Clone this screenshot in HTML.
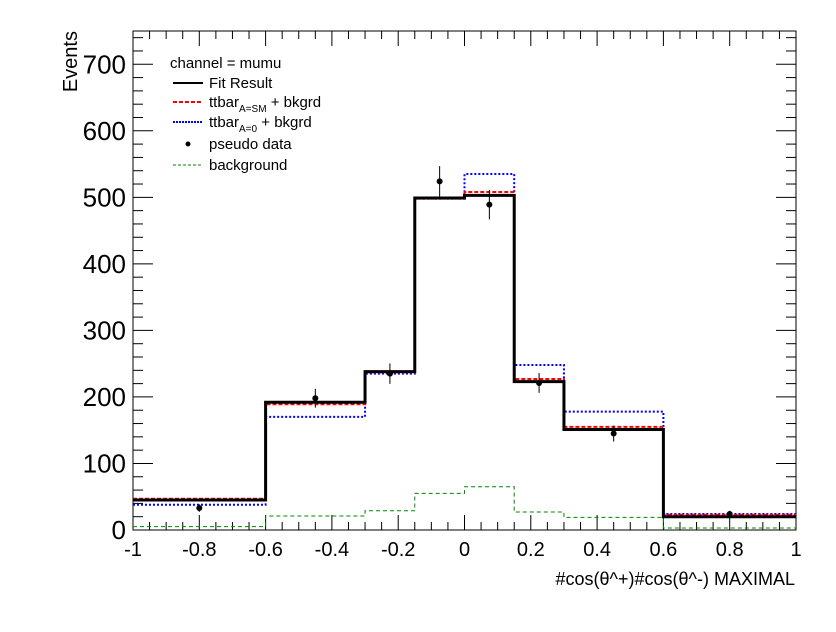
<!DOCTYPE html>
<html><head><meta charset="utf-8"><style>
body{margin:0;background:#fff}
svg{display:block;font-family:"Liberation Sans",sans-serif}
</style></head><body>
<svg id="c" width="836" height="632">
<g id="ax"></g>
<g id="marks"></g>
<g id="leg"></g>
</svg>
<script>
const binEdges=[-1,-0.6,-0.3,-0.15,0,0.15,0.3,0.6,1];
const fitValues=[45,192,238,499,503,223,151,20];
const smValues=[47,189,237,498,508,227,155,23];
const a0Values=[38,170,235,498,535,248,178,24];
const bkgValues=[5,21,29,55,65,27,19,3];
const dataX=[-0.8,-0.45,-0.225,-0.075,0.075,0.225,0.45,0.8];
const dataY=[33,198,235,524,489,221,145,24];
const xTicks=[-1,-0.8,-0.6,-0.4,-0.2,0,0.2,0.4,0.6,0.8,1];
const yTicks=[0,100,200,300,400,500,600,700];

const L=133,R=796,T=31,B=530,YMAX=750;
const sx=v=>L+(v+1)/2*(R-L);
const sy=v=>B-v/YMAX*(B-T);
const NS='http://www.w3.org/2000/svg';
function mk(tag,attrs,parent){const e=document.createElementNS(NS,tag);for(const k in attrs)e.setAttribute(k,attrs[k]);parent.appendChild(e);return e;}
const ax=document.getElementById('ax'),mg=document.getElementById('marks'),lg=document.getElementById('leg');

let fr=mk('rect',{x:L,y:T,width:R-L,height:B-T,fill:'none',stroke:'#000','stroke-width':1},ax);

for(let v=-1;v<=1.0001;v+=0.05){const major=Math.abs(v*5-Math.round(v*5))<1e-6;const len=major?15:8;const x=sx(v);
mk('line',{x1:x,x2:x,y1:B,y2:B-len,stroke:'#000'},ax);mk('line',{x1:x,x2:x,y1:T,y2:T+len,stroke:'#000'},ax);}
xTicks.forEach(v=>{const t=mk('text',{x:sx(v),y:556,'font-size':20,'text-anchor':'middle'},ax);t.textContent=String(v);
});
for(let v=0;v<=YMAX;v+=20){const major=v%100===0;const len=major?20:10;const y=sy(v);
mk('line',{x1:L,x2:L+len,y1:y,y2:y,stroke:'#000'},ax);mk('line',{x1:R,x2:R-len,y1:y,y2:y,stroke:'#000'},ax);}
yTicks.forEach(v=>{const t=mk('text',{x:126,y:sy(v)+9,'font-size':26,'text-anchor':'end'},ax);t.textContent=String(v);
});
let yt=mk('text',{x:0,y:0,'font-size':20,'text-anchor':'end',transform:'translate(77,31) rotate(-90)'},ax);yt.textContent='Events';

let xt=mk('text',{x:795,y:585,'font-size':18,'text-anchor':'end'},ax);xt.textContent='#cos(θ^+)#cos(θ^-) MAXIMAL';


function hist(vals,stroke,w,dash,name){let d='';for(let i=0;i<vals.length;i++){const x0=sx(binEdges[i]),x1=sx(binEdges[i+1]),y=sy(vals[i]);
d+=(i===0?'M'+x0+','+y:'L'+x0+','+y)+'L'+x1+','+y;}
const p=mk('path',{d:d,fill:'none',stroke:stroke,'stroke-width':w},mg);if(dash)p.setAttribute('stroke-dasharray',dash);
}
hist(bkgValues,'#008800',1,'4,3','background-hist');
hist(a0Values,'#0000ff',2,'2,2','ttbar-a0-hist');
hist(smValues,'#ff0000',2,'4,2','ttbar-sm-hist');
hist(fitValues,'#000',3,null,'fit-result-hist');
dataX.forEach((xv,i)=>{const x=sx(xv),v=dataY[i],e=Math.sqrt(v);
mk('line',{x1:x,x2:x,y1:sy(v+e),y2:sy(Math.max(0,v-e)),stroke:'#000'},mg);
const c=mk('circle',{cx:x,cy:sy(v),r:3,fill:'#000'},mg);});

function lt(x,y,s,fs){const t=mk('text',{x:x,y:y,'font-size':fs||15},lg);t.textContent=s;return t;}
lt(170,68,'channel = mumu');
mk('line',{x1:173,x2:203,y1:83,y2:83,stroke:'#000','stroke-width':2},lg);lt(209,88,'Fit Result');
mk('line',{x1:173,x2:203,y1:102,y2:102,stroke:'#f00','stroke-width':2,'stroke-dasharray':'4,2'},lg);
let t1=lt(209,107,'ttbar');let s1=mk('tspan',{'font-size':10,dy:5},t1);s1.textContent='A=SM';let s2=mk('tspan',{dy:-5},t1);s2.textContent=' + bkgrd';
mk('line',{x1:173,x2:203,y1:122,y2:122,stroke:'#00f','stroke-width':2,'stroke-dasharray':'2,1'},lg);
let t2=lt(209,127,'ttbar');let s3=mk('tspan',{'font-size':10,dy:5},t2);s3.textContent='A=0';let s4=mk('tspan',{dy:-5},t2);s4.textContent=' + bkgrd';
mk('circle',{cx:188,cy:144,r:2.5,fill:'#000'},lg);lt(209,149,'pseudo data');
mk('line',{x1:173,x2:203,y1:165,y2:165,stroke:'#080','stroke-width':1,'stroke-dasharray':'3,2'},lg);lt(209,170,'background');
</script>
</body></html>
